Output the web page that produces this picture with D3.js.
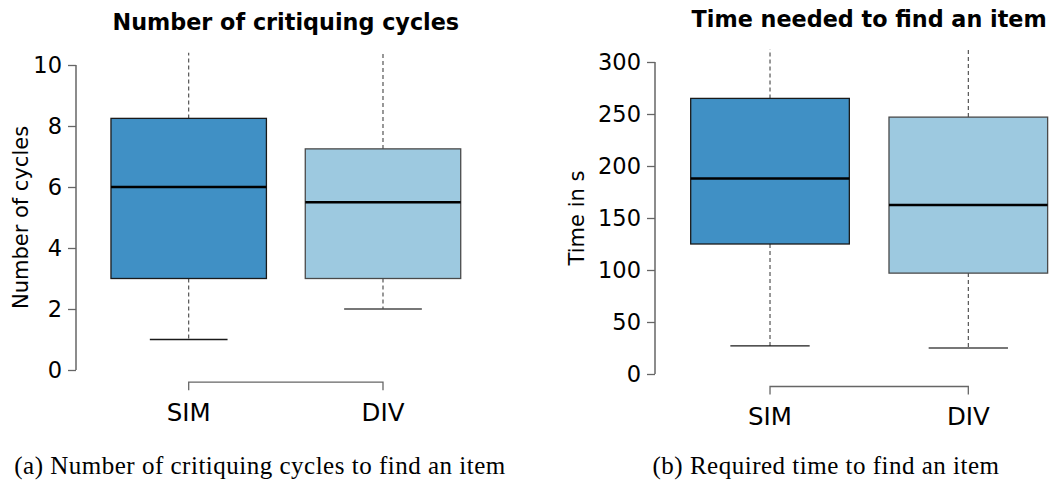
<!DOCTYPE html>
<html>
<head>
<meta charset="utf-8">
<script src="https://cdn.jsdelivr.net/npm/d3@7"></script>
<style>
  body { margin: 0; background: #fff; }
  svg { display: block; }
  .tick text { font-family: "DejaVu Sans", sans-serif; }
</style>
</head>
<body>
<svg width="1061" height="484"></svg>
<script>
// groups shown on both panels
var groups = ["SIM", "DIV"];
var fills = ["#4090c5", "#9dc9e0"];
var strokes = ["#1a1a1a", "#4a4a4a"];

// panel (a): critiquing cycles  [lower whisker, q1, median, q3, upper whisker]
var cyclesStats = [
  [1, 3, 6, 8.25, 14],
  [2, 3, 5.5, 7.25, 14]
];
var cyclesTicks = [0, 2, 4, 6, 8, 10];

// panel (b): time in seconds
var timeStats = [
  [27, 125, 188, 265, 420],
  [25, 97, 162.5, 247, 420]
];
var timeTicks = [0, 50, 100, 150, 200, 250, 300];

var svg = d3.select("svg");

var panels = [
  {stats: cyclesStats, ticks: cyclesTicks, max: 10, left: 76, unit: 194.3, top: 65, bottom: 370,
   title: "Number of critiquing cycles", ylab: "Number of cycles", ylabX: 21,
   caption: "(a) Number of critiquing cycles to find an item", capX: 260, titleY: 30},
  {stats: timeStats, ticks: timeTicks, max: 300, left: 655, unit: 198.3, top: 62, bottom: 374,
   title: "Time needed to find an item", ylab: "Time in s", ylabX: 577,
   caption: "(b) Required time to find an item", capX: 826, titleY: 27}
];

panels.forEach(function(p, pi) {
  var x = d3.scaleLinear().domain([0.42, 2.58])
      .range([p.left, p.left + 2.16 * p.unit]);
  var y = d3.scaleLinear().domain([0, p.max]).range([p.bottom, p.top]);

  var g = svg.append("g");

  // plot region like R: 4% beyond the data range
  var clipId = "clip" + pi;
  svg.append("clipPath").attr("id", clipId)
    .append("rect")
      .attr("x", x(0.42)).attr("y", y(p.max * 1.04))
      .attr("width", x(2.58) - x(0.42))
      .attr("height", y(-p.max * 0.04) - y(p.max * 1.04));

  var boxes = g.append("g").attr("clip-path", "url(#" + clipId + ")")
    .selectAll("g.box")
    .data(p.stats)
    .enter().append("g").attr("class", "box");

  var half = 0.4;

  // whiskers
  boxes.append("line")
      .attr("x1", function(d, i) { return x(i + 1); })
      .attr("x2", function(d, i) { return x(i + 1); })
      .attr("y1", function(d) { return y(d[3]); })
      .attr("y2", function(d) { return y(d[4]); })
      .attr("stroke", "#444").attr("stroke-width", 1.1)
      .attr("stroke-dasharray", "4,3");
  boxes.append("line")
      .attr("x1", function(d, i) { return x(i + 1); })
      .attr("x2", function(d, i) { return x(i + 1); })
      .attr("y1", function(d) { return y(d[1]); })
      .attr("y2", function(d) { return y(d[0]); })
      .attr("stroke", "#444").attr("stroke-width", 1.1)
      .attr("stroke-dasharray", "4,3");
  // lower cap
  boxes.append("line")
      .attr("x1", function(d, i) { return x(i + 1 - half / 2); })
      .attr("x2", function(d, i) { return x(i + 1 + half / 2); })
      .attr("y1", function(d) { return y(d[0]); })
      .attr("y2", function(d) { return y(d[0]); })
      .attr("stroke", function(d, i) { return strokes[i]; })
      .attr("stroke-width", 1.3);

  boxes.append("rect")
      .attr("x", function(d, i) { return x(i + 1 - half); })
      .attr("width", function(d, i) { return x(i + 1 + half) - x(i + 1 - half); })
      .attr("y", function(d) { return y(d[3]); })
      .attr("height", function(d) { return y(d[1]) - y(d[3]); })
      .attr("fill", function(d, i) { return fills[i]; })
      .attr("stroke", function(d, i) { return strokes[i]; })
      .attr("stroke-width", 1.3);

  boxes.append("line")
      .attr("x1", function(d, i) { return x(i + 1 - half); })
      .attr("x2", function(d, i) { return x(i + 1 + half); })
      .attr("y1", function(d) { return y(d[2]); })
      .attr("y2", function(d) { return y(d[2]); })
      .attr("stroke", "#000").attr("stroke-width", 2.6);

  // y axis
  var yAxis = d3.axisLeft(y).tickValues(p.ticks).tickSize(8).tickPadding(6)
      .tickFormat(d3.format("d"));
  var ya = g.append("g")
      .attr("transform", "translate(" + x(0.42) + ",0)")
      .call(yAxis);
  ya.select(".domain").remove();
  ya.append("line")
      .attr("y1", y(0)).attr("y2", y(p.max))
      .attr("stroke", "#666").attr("stroke-width", 1.5);
  ya.selectAll(".tick line").attr("stroke", "#666").attr("stroke-width", 1.3);
  ya.selectAll(".tick text").attr("font-size", 22.5).attr("fill", "#000");

  // x axis: bracket between the groups
  var xBase = y(-p.max * 0.04);
  var xa = g.append("g")
      .attr("transform", "translate(0," + xBase + ")");
  xa.append("path")
      .attr("d", "M" + x(1) + ",8V0H" + x(2) + "V8")
      .attr("fill", "none").attr("stroke", "#666").attr("stroke-width", 1.3);
  xa.selectAll("text")
      .data(groups)
      .enter().append("text")
      .attr("x", function(d, i) { return x(i + 1); })
      .attr("y", 38.5)
      .attr("text-anchor", "middle")
      .attr("font-family", "DejaVu Sans, sans-serif")
      .attr("font-size", 24.5)
      .text(function(d) { return d; });

  // y label
  g.append("text")
      .attr("transform", "translate(" + p.ylabX + "," + ((y(0) + y(p.max)) / 2) + ") rotate(-90)")
      .attr("text-anchor", "middle")
      .attr("dominant-baseline", "central")
      .attr("font-family", "DejaVu Sans, sans-serif")
      .attr("font-size", 21)
      .text(p.ylab);

  // title
  g.append("text")
      .attr("x", x(1.5)).attr("y", p.titleY)
      .attr("text-anchor", "middle")
      .attr("font-family", "DejaVu Sans, sans-serif")
      .attr("font-weight", "bold")
      .attr("font-size", 22.3)
      .text(p.title);

  // caption
  g.append("text")
      .attr("x", p.capX).attr("y", 474)
      .attr("text-anchor", "middle")
      .attr("font-family", "Liberation Serif, serif")
      .attr("font-size", 25)
      .attr("letter-spacing", 0.5)
      .text(p.caption);
});
</script>
</body>
</html>
